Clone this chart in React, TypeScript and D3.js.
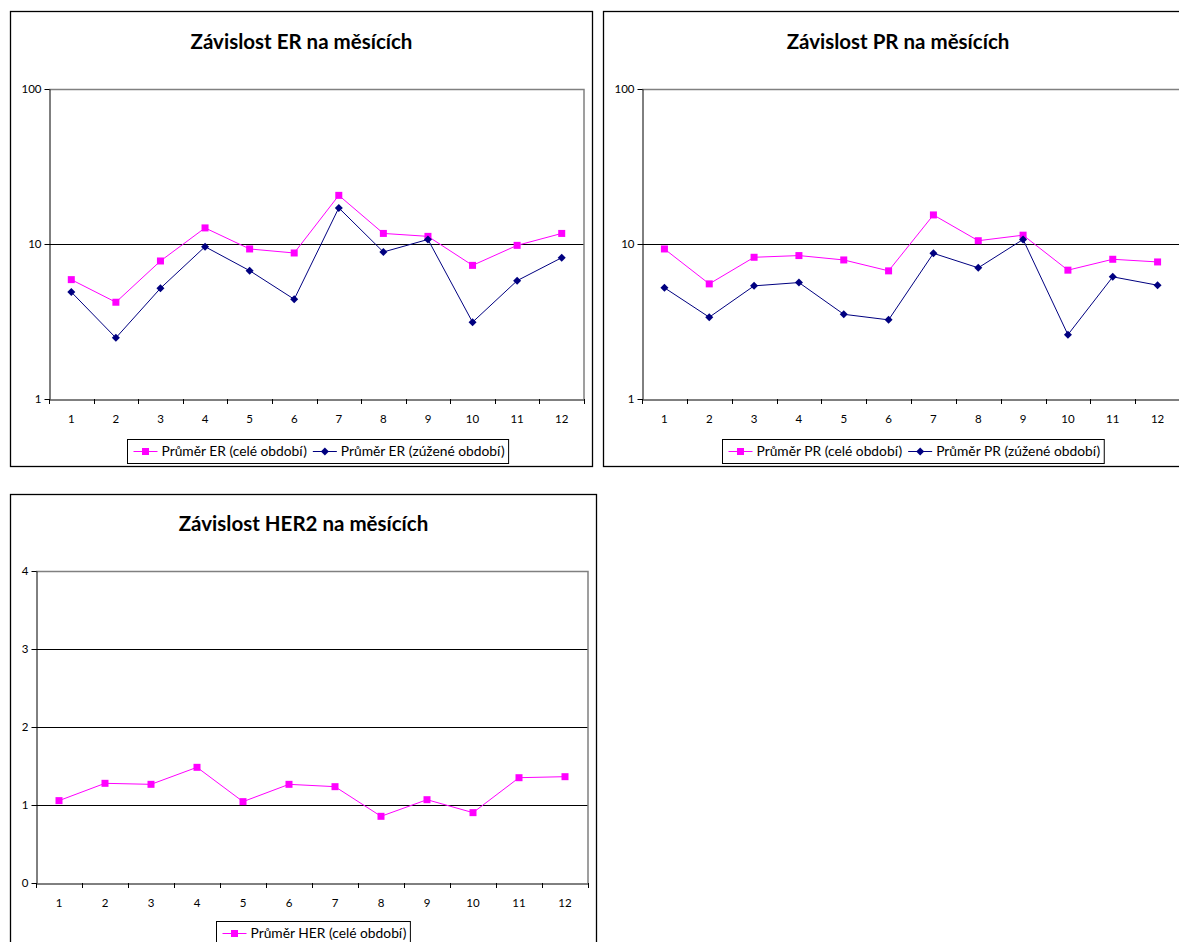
import React, { useEffect, useRef } from "react";
import * as d3 from "d3";

const months = [1, 2, 3, 4, 5, 6, 7, 8, 9, 10, 11, 12];

const erFull = [5.89, 4.21, 7.77, 12.7, 9.29, 8.75, 20.6, 11.7, 11.2, 7.28, 9.8, 11.7];
const erNarrow = [4.9, 2.48, 5.18, 9.61, 6.73, 4.4, 17.1, 8.88, 10.7, 3.13, 5.8, 8.16];

const prFull = [9.29, 5.53, 8.21, 8.42, 7.89, 6.71, 15.4, 10.5, 11.4, 6.78, 7.97, 7.66];
const prNarrow = [5.22, 3.37, 5.37, 5.64, 3.52, 3.24, 8.71, 7.02, 10.7, 2.6, 6.14, 5.42];

const herFull = [1.056, 1.278, 1.265, 1.483, 1.043, 1.265, 1.235, 0.855, 1.068, 0.902, 1.35, 1.363];

const logTicks = [1, 10, 100];
const linTicks = [0, 1, 2, 3, 4];

const PINK = "#FF00FF";
const NAVY = "#000080";
const FONT = "Lato, 'Open Sans', sans-serif";

type Series = { name: string; values: number[]; color: string; marker: "square" | "diamond" };
type Cfg = {
  title: string;
  box: { x: number; y: number; w: number; h: number };
  plot: { l: number; t: number; r: number; b: number };
  titleY: number;
  log: boolean;
  ticks: number[];
  domain: [number, number];
  series: Series[];
  legend: { x: number; y: number; h: number };
};

const charts: Cfg[] = [
  {
    title: "Závislost ER na měsících",
    box: { x: 10.5, y: 11.5, w: 582, h: 455 },
    plot: { l: 49, t: 89, r: 584, b: 399 },
    titleY: 49,
    log: true,
    ticks: logTicks,
    domain: [1, 100],
    series: [
      { name: "Průměr ER (celé období)", values: erFull, color: PINK, marker: "square" },
      { name: "Průměr ER (zúžené období)", values: erNarrow, color: NAVY, marker: "diamond" },
    ],
    legend: { x: 127.5, y: 439.5, h: 24 },
  },
  {
    title: "Závislost PR na měsících",
    box: { x: 603.5, y: 11.5, w: 589, h: 455 },
    plot: { l: 642, t: 89, r: 1180, b: 399 },
    titleY: 49,
    log: true,
    ticks: logTicks,
    domain: [1, 100],
    series: [
      { name: "Průměr PR (celé období)", values: prFull, color: PINK, marker: "square" },
      { name: "Průměr PR (zúžené období)", values: prNarrow, color: NAVY, marker: "diamond" },
    ],
    legend: { x: 722.5, y: 439.5, h: 24 },
  },
  {
    title: "Závislost HER2 na měsících",
    box: { x: 10.5, y: 494.5, w: 586, h: 470 },
    plot: { l: 36, t: 571, r: 588, b: 883 },
    titleY: 531,
    log: false,
    ticks: linTicks,
    domain: [0, 4],
    series: [{ name: "Průměr HER (celé období)", values: herFull, color: PINK, marker: "square" }],
    legend: { x: 216.5, y: 921.5, h: 24 },
  },
];

function drawMarker(g: any, kind: string, x: number, y: number, color: string) {
  if (kind === "square") {
    g.append("rect").attr("x", x - 3.5).attr("y", y - 3.5).attr("width", 7).attr("height", 7).attr("fill", color);
  } else {
    g.append("path")
      .attr("d", `M${x},${y - 4}L${x + 4},${y}L${x},${y + 4}L${x - 4},${y}Z`)
      .attr("fill", color);
  }
}

function drawChart(svg: any, c: Cfg) {
  const g = svg.append("g");
  g.append("rect")
    .attr("x", c.box.x).attr("y", c.box.y).attr("width", c.box.w).attr("height", c.box.h)
    .attr("fill", "#fff").attr("stroke", "#000").attr("stroke-width", 1.3);

  g.append("text")
    .attr("x", c.box.x + c.box.w / 2).attr("y", c.titleY)
    .attr("text-anchor", "middle").attr("font-family", FONT)
    .attr("font-weight", "bold").attr("font-size", 20.5).attr("fill", "#000")
    .text(c.title);

  const x = d3.scaleBand<number>().domain(months).range([c.plot.l, c.plot.r]);
  const y = c.log
    ? d3.scaleLog().domain(c.domain).range([c.plot.b, c.plot.t])
    : d3.scaleLinear().domain(c.domain).range([c.plot.b, c.plot.t]);

  // gridlines
  c.ticks.forEach((t) => {
    if (t === c.domain[0] || t === c.domain[1]) return;
    const yy = Math.round(y(t)) + 0.5;
    g.append("line").attr("x1", c.plot.l).attr("x2", c.plot.r).attr("y1", yy).attr("y2", yy)
      .attr("stroke", "#000").attr("stroke-width", 1);
  });
  // plot border top/right
  const pt = Math.round(c.plot.t) + 0.5;
  g.append("path")
    .attr("d", `M${c.plot.l},${pt}H${c.plot.r}V${c.plot.b}`)
    .attr("fill", "none").attr("stroke", "#808080").attr("stroke-width", 1.5);

  // y axis
  const yAxis = d3.axisLeft(y as any).tickValues(c.ticks).tickSize(5).tickSizeOuter(0)
    .tickFormat((d: any) => String(d));
  const ya = g.append("g").attr("transform", `translate(${c.plot.l + 0.5},0)`).call(yAxis);
  ya.select(".domain").attr("stroke", "#000");
  ya.selectAll("text").attr("font-family", FONT).attr("font-size", 11.5).attr("fill", "#000").attr("x", -8);

  // x axis
  const xAxis = d3.axisBottom(x).tickSize(0).tickSizeOuter(0);
  const xa = g.append("g").attr("transform", `translate(0,${c.plot.b + 0.5})`).call(xAxis);
  xa.select(".domain").attr("stroke", "#000");
  xa.selectAll("text").attr("font-family", FONT).attr("font-size", 11.5).attr("fill", "#000").attr("dy", "1.8em");
  // category boundary ticks
  const bounds = months.map((m) => x(m) as number).concat([c.plot.r]);
  bounds.forEach((bx) => {
    const xx = Math.round(bx) + 0.5;
    g.append("line").attr("x1", xx).attr("x2", xx).attr("y1", c.plot.b).attr("y2", c.plot.b + 5)
      .attr("stroke", "#000");
  });

  // series
  c.series.forEach((s) => {
    const line = d3.line<number>()
      .x((_, i) => (x(months[i]) as number) + x.bandwidth() / 2)
      .y((v) => y(v));
    g.append("path").attr("d", line(s.values)).attr("fill", "none").attr("stroke", s.color).attr("stroke-width", 1);
    s.values.forEach((v, i) => {
      drawMarker(g, s.marker, (x(months[i]) as number) + x.bandwidth() / 2, y(v), s.color);
    });
  });

  // legend
  const lg = g.append("g");
  const box = lg.append("rect").attr("x", c.legend.x).attr("y", c.legend.y).attr("height", c.legend.h)
    .attr("fill", "#fff").attr("stroke", "#000").attr("stroke-width", 1);
  let cx = c.legend.x + 6;
  const cy = c.legend.y + c.legend.h / 2;
  c.series.forEach((s, i) => {
    lg.append("line").attr("x1", cx).attr("x2", cx + 24).attr("y1", cy).attr("y2", cy).attr("stroke", s.color);
    drawMarker(lg, s.marker, cx + 12, cy, s.color);
    const t = lg.append("text").attr("x", cx + 28).attr("y", cy).attr("dy", "0.35em")
      .attr("font-family", FONT).attr("font-size", 13.8).attr("fill", "#000").text(s.name);
    const w = (t.node() as SVGTextElement).getComputedTextLength();
    cx = cx + 28 + w + (i === c.series.length - 1 ? 4 : 6);
  });
  box.attr("width", cx - c.legend.x);
}

export default function App() {
  const ref = useRef<SVGSVGElement>(null);
  useEffect(() => {
    const svg = d3.select(ref.current);
    svg.selectAll("*").remove();
    charts.forEach((c) => drawChart(svg, c));
  }, []);
  return (
    <svg ref={ref} width={1179} height={942} style={{ position: "absolute", left: 0, top: 0, background: "#fff" }} />
  );
}
